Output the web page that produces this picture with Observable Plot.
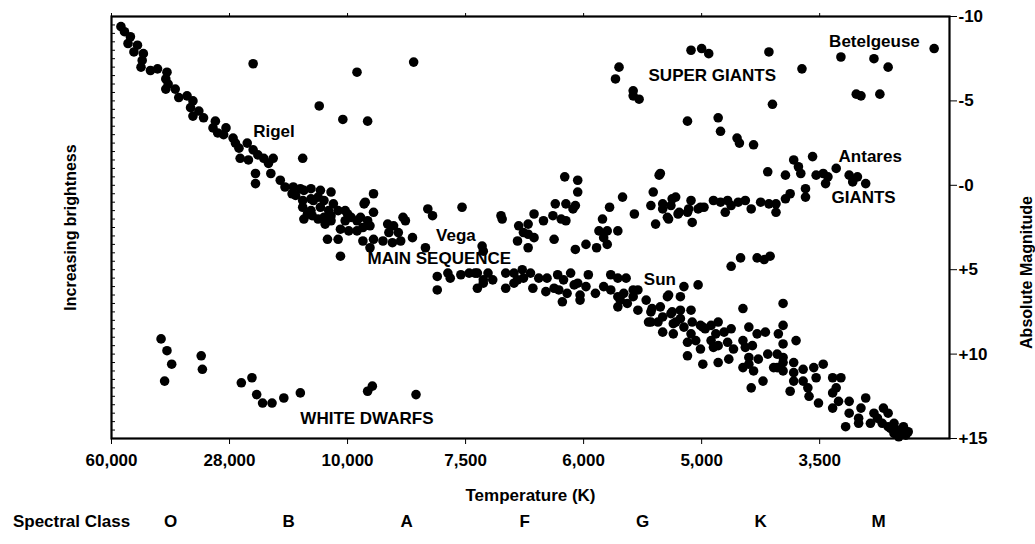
<!DOCTYPE html>
<html><head><meta charset="utf-8">
<script src="https://cdn.jsdelivr.net/npm/d3@7"></script>
<script src="https://cdn.jsdelivr.net/npm/@observablehq/plot@0.6"></script>
<style>
body{margin:0;background:#fff}
</style></head><body><div id="chart"></div>
<script>
// Temperature axis is categorical-like: equal spacing between labelled temperatures.
const tempTicks = ["60,000","28,000","10,000","7,500","6,000","5,000","3,500"];
const spectralClasses = ["O","B","A","F","G","K","M"];
const magTicks = [-10,-5,0,5,10,15];

// [temperature position (0 = 60,000 ... 6 = 3,500), absolute magnitude]
const mainSequence = [
[0.08,-9.4],[0.11,-9.1],[0.16,-8.8],[0.14,-8.4],[0.22,-8.3],[0.19,-7.9],[0.27,-7.8],[0.26,-7.4],[0.25,-7.0],[0.33,-6.8],[0.39,-6.9],[0.47,-6.7],[0.46,-6.3],[0.48,-6.0],[0.46,-5.7],[0.54,-5.7],[0.57,-5.2],[0.64,-5.3],[0.69,-5.0],[0.67,-4.6],[0.74,-4.4],[0.69,-4.1],[0.78,-4.0],[0.88,-3.8],[0.86,-3.4],[0.90,-3.1],[0.97,-3.4],[0.95,-3.0],[1.03,-2.8],[1.05,-2.5],[1.15,-2.5],[1.08,-2.2],[1.09,-1.6],[1.16,-1.5],[1.20,-2.1],[1.24,-1.8],[1.29,-1.6],[1.33,-1.3],[1.37,-1.6],[1.22,-0.7],[1.22,-0.1],[1.35,-0.7],[1.43,-0.3],[1.47,0.1],[1.54,0.1],[1.53,0.5],[1.63,0.3],[1.69,0.2],[1.77,0.3],[1.86,0.4],[1.62,1.3],[1.71,0.9],[1.66,1.7],[1.77,1.3],[1.88,1.1],[1.92,1.5],[2.00,1.7],[2.11,1.9],[1.63,2.0],[1.75,2.0],[1.86,2.1],[2.17,2.1],[2.22,0.5],[2.15,1.0],[2.22,1.6],[2.34,2.3],
[1.60,0.2],[1.56,0.6],[1.62,0.9],[1.69,0.8],[1.75,0.7],[1.80,0.9],[1.69,1.5],[1.84,1.5],[1.70,1.8],[1.80,1.9],[1.86,1.8],[1.98,1.5],[2.03,1.9],[2.08,2.1],[1.98,2.1],[1.81,2.3],[1.94,2.6],[2.01,2.7],[1.92,3.2],[1.83,3.2],[2.08,2.7],[2.13,2.5],[2.19,2.4],[2.13,3.3],[2.19,3.7],[2.22,3.2],[2.30,3.3],[2.35,2.8],[2.39,2.4],[2.43,2.8],[2.45,3.3],[2.38,3.4],[2.47,1.9],[2.49,2.1],[2.55,3.1],[1.94,4.2],[2.14,1.1],[2.66,3.7],
[2.76,5.4],[2.76,6.2],[2.85,5.2],[2.87,5.5],[2.96,5.3],[3.03,5.2],[3.10,5.2],[3.10,6.1],[3.15,5.8],[3.08,5.2],[3.19,5.2],[3.23,5.6],[3.15,5.6],[3.34,5.2],[3.34,6.1],[3.41,5.2],[3.41,5.8],[3.48,5.0],[3.49,5.5],[3.55,5.2],[3.57,6.1],[3.62,5.5],[3.68,6.3],[3.69,5.5],[3.78,5.3],[3.79,6.2],[3.83,5.6],[3.89,5.2],[3.86,6.4],[3.82,6.9],[3.95,5.8],[3.97,6.5],[4.04,5.3],[4.02,6.0],[4.10,6.4],[4.17,6.0],[4.23,5.3],[4.29,5.5],[4.36,5.5],[4.23,6.2],[4.29,6.6],[4.34,6.4],[4.37,7.0],[4.29,7.2],[4.42,6.6],[4.46,6.2],[4.46,7.4],[4.53,6.8],[4.58,7.3],[4.65,7.2],[4.57,8.1],[4.67,7.8],[4.75,7.5],[4.82,7.4],[4.91,7.4],[4.78,8.1],[4.85,8.4],[4.92,8.1],[4.99,8.3],[5.03,8.5],[4.67,8.7],[4.85,6.0],[4.82,6.6],[4.97,5.9],[4.72,6.5],[4.91,8.8],[3.44,5.6],[3.75,6.1],[3.92,5.9],[3.97,6.8],[4.31,6.8],[4.57,7.5],[4.63,8.1],[4.74,7.6],[4.71,6.6],[4.76,8.2],[4.76,8.8],[4.42,6.2],
[4.55,8.1],[4.82,7.9],[4.88,9.3],[4.88,10.1],[4.95,9.2],[4.99,9.7],[5.01,10.6],[5.01,8.4],[5.08,8.3],[5.14,8.1],[5.12,8.8],[5.08,9.2],[5.14,9.5],[5.10,9.6],[5.19,8.7],[5.25,8.5],[5.22,9.3],[5.27,9.7],[5.14,10.5],[5.23,10.3],[5.35,7.3],[5.35,9.2],[5.40,8.4],[5.37,9.6],[5.43,9.5],[5.47,8.8],[5.54,8.7],[5.35,10.8],[5.40,10.2],[5.40,10.6],[5.44,11.0],[5.42,12.0],[5.48,10.3],[5.52,11.6],[5.56,10.0],[5.64,10.0],[5.64,10.8],[5.69,10.2],[5.69,10.5],[5.65,8.8],[5.69,9.4],[5.69,8.3],[5.80,9.2],[5.69,7.0],[5.61,10.8],[5.69,11.0],[5.75,12.2],[5.78,10.5],[5.78,11.1],[5.78,11.6],[5.86,10.9],[5.86,11.6],[5.91,12.5],[5.90,12.0],[5.95,10.8],[5.97,11.4],[6.03,10.6],[5.99,12.9],[6.11,11.4],[6.14,12.0],[6.18,11.4],[6.11,12.3],[6.11,13.2],[6.16,12.8],[6.25,12.8],[6.25,13.5],[6.22,14.3],[6.35,13.2],[6.39,12.6],[6.33,13.8],[6.33,14.1],[6.46,13.5],[6.49,13.8],[6.54,13.2],[6.58,13.5],[6.43,14.1],[6.53,14.1],[6.58,14.3],[6.63,14.1],[6.66,14.5],[6.71,14.3],[6.69,14.7],[6.75,14.6],[6.63,14.7],[6.60,14.4],[6.73,14.8],[6.67,14.9]
];
const giants = [
[2.68,1.4],[2.72,1.8],[2.97,1.3],[3.14,3.6],[3.15,3.9],[3.84,-0.5],[3.95,-0.3],[3.95,0.4],[3.76,1.1],[3.85,1.1],[3.93,1.2],[3.74,1.8],[3.81,2.0],[3.85,2.1],[3.91,1.4],[3.58,1.7],[3.66,2.1],[3.30,1.8],[3.31,2.0],[3.45,2.4],[3.53,2.3],[3.44,3.3],[3.53,3.7],[3.58,3.1],[3.49,2.8],[3.75,3.2],[3.93,3.8],[4.02,3.5],[4.11,3.7],[4.13,2.7],[4.20,2.7],[4.29,2.7],[4.16,2.0],[4.22,1.3],[4.33,0.7],[4.17,3.1],[4.20,3.5],[4.43,1.7],[4.64,-0.6],[4.59,0.4],[4.57,1.2],[4.67,1.1],[4.67,1.4],[4.75,0.8],[4.72,2.0],[4.61,2.3],[4.80,1.7],[4.88,1.6],[4.99,1.3],[3.53,2.9],
[5.78,-1.5],[5.94,-1.7],[5.56,-0.8],[5.71,-0.6],[5.82,-1.1],[5.84,-0.7],[5.97,-0.6],[6.03,-0.7],[6.07,-0.5],[6.05,-0.1],[6.14,-1.0],[6.25,-0.6],[6.32,-0.5],[6.28,-0.2],[6.39,-0.1],[5.88,0.2],[5.88,0.7],[5.75,0.5],[5.71,0.8],[5.63,1.1],[5.57,1.1],[5.63,1.6],[5.50,1.0],[5.37,0.9],[5.31,1.0],[5.22,0.9],[5.16,1.0],[5.25,1.2],[5.20,1.6],[5.10,0.9],[5.02,1.3],[4.97,1.4],[4.91,0.9],[4.89,1.4],[4.92,2.2],[4.81,1.6],[4.78,0.7],[4.74,1.2],[4.71,1.9],[4.65,-0.7],[5.42,1.4],
[5.25,4.8],[5.33,4.3],[5.47,4.3],[5.53,4.4],[5.58,4.2]
];
const superGiants = [
[1.20,-7.2],[2.08,-6.7],[2.56,-7.3],[1.76,-4.7],[1.96,-3.9],[2.17,-3.8],[1.62,-1.6],[4.30,-7.0],[4.27,-6.3],[4.42,-5.6],[4.42,-5.3],[4.47,-5.1],[4.91,-8.0],[5.00,-8.1],[5.06,-7.8],[5.57,-7.9],[5.85,-6.9],[6.18,-7.6],[6.46,-7.5],[6.58,-7.0],[6.97,-8.1],[6.31,-5.4],[6.35,-5.3],[6.51,-5.4],[5.60,-4.8],[4.88,-3.8],[5.14,-4.0],[5.16,-3.2],[5.30,-2.8],[5.32,-2.5],[5.44,-2.4]
];
const whiteDwarfs = [
[0.42,9.1],[0.47,9.8],[0.51,10.6],[0.45,11.6],[0.76,10.1],[0.77,10.9],[1.10,11.7],[1.19,11.4],[1.23,12.4],[1.28,12.9],[1.36,12.9],[1.46,12.6],[1.60,12.3],[2.17,12.2],[2.21,11.9],[2.58,12.4]
];
const labelText = ["Rigel","SUPER GIANTS","Betelgeuse","Antares","GIANTS","Vega","MAIN SEQUENCE","Sun","WHITE DWARFS"];
const labelTemp = [1.20,4.55,6.08,6.16,6.10,2.75,2.17,4.51,1.60];
const labelMag  = [-3.2,-6.5,-8.5,-1.7,0.7,3.0,4.35,5.6,13.8];

const stars = [mainSequence, giants, superGiants, whiteDwarfs].flat().map(([t, m]) => ({t, m}));
const labels = labelText.map((text, i) => ({text, t: labelTemp[i], m: labelMag[i]}));
const tickIdx = tempTicks.map((_, i) => i);
const fmtMag = d => d < 0 ? String(d) : d === 0 ? "-0" : "+" + d;
const FONT = '"Liberation Sans",Arial,"Helvetica",sans-serif';

const chart = Plot.plot({
  width: 1035, height: 544,
  marginLeft: 111, marginRight: 86, marginTop: 16, marginBottom: 106,
  style: {fontFamily: FONT, fontWeight: "bold", fontSize: "17px", background: "#fff", color: "#000"},
  x: {domain: [0, 7.1]},
  y: {domain: [-10, 15], reverse: true},
  marks: [
    Plot.axisX({anchor: "bottom", ticks: tickIdx, tickFormat: i => tempTicks[i], tickSize: 6, tickPadding: 9, label: null, fontSize: 17, fontWeight: "bold"}),
    Plot.axisX({anchor: "top", ticks: tickIdx, tickSize: 4, tickFormat: () => "", label: null}),
    Plot.axisY({anchor: "right", ticks: magTicks, tickFormat: fmtMag, tickSize: 7, tickPadding: 2, label: null, fontSize: 17, fontWeight: "bold"}),
    Plot.axisY({anchor: "left", ticks: d3.range(-10, 15.01, 0.5), tickSize: -4, tickFormat: () => "", label: null}),
    Plot.frame({stroke: "#000", strokeWidth: 2.2}),
    Plot.dot(stars, {x: "t", y: "m", r: 4.8, fill: "#000", stroke: "none"}),
    Plot.text(labels, {x: "t", y: "m", text: "text", textAnchor: "start", fontSize: 17, fontWeight: "bold", fill: "#000"}),
    Plot.text(spectralClasses, {x: (d, i) => i + 0.5, text: d => d, frameAnchor: "bottom", dy: 88, fontSize: 17, fontWeight: "bold"}),
    Plot.text(["Spectral Class"], {text: d => d, frameAnchor: "bottom-left", textAnchor: "middle", dx: -40, dy: 88, fontSize: 17, fontWeight: "bold"}),
    Plot.text(["Temperature (K)"], {text: d => d, frameAnchor: "bottom", dy: 62, fontSize: 17, fontWeight: "bold"}),
    Plot.text(["Increasing brightness"], {text: d => d, frameAnchor: "left", textAnchor: "middle", dx: -41, rotate: -90, fontSize: 16, fontWeight: "bold"}),
    Plot.text(["Absolute Magnitude"], {text: d => d, frameAnchor: "right", textAnchor: "middle", dx: 77, dy: 45, rotate: -90, fontSize: 16, fontWeight: "bold"})
  ]
});
document.getElementById("chart").append(chart);
</script></body></html>
